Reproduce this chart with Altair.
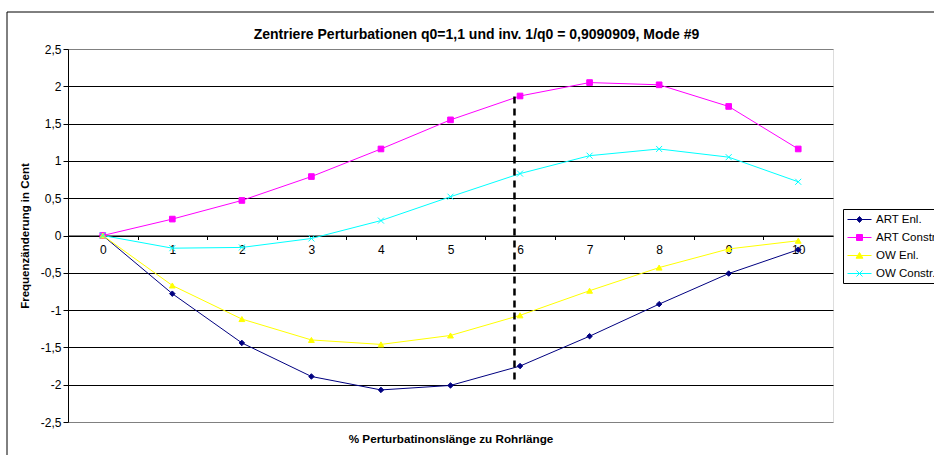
import altair as alt
import pandas as pd

# Perturbation position (% of tube length) on the category axis
positions = list(range(11))

# Frequency change in cent for each series
art_enl = [0, -0.78, -1.44, -1.89, -2.07, -2.01, -1.75, -1.35, -0.92, -0.51, -0.19]
art_constr = [0, 0.22, 0.47, 0.79, 1.16, 1.55, 1.87, 2.05, 2.02, 1.73, 1.16]
ow_enl = [0, -0.67, -1.12, -1.40, -1.46, -1.34, -1.07, -0.74, -0.43, -0.18, -0.07]
ow_constr = [0, -0.17, -0.16, -0.04, 0.20, 0.52, 0.83, 1.07, 1.16, 1.05, 0.72]

series_names = ["ART Enl.", "ART Constr.", "OW Enl.", "OW Constr."]
series_values = [art_enl, art_constr, ow_enl, ow_constr]
series_colors = ["#000080", "#FF00FF", "#FFFF00", "#00FFFF"]

# Marker glyphs in the plot and the line+marker glyphs in the legend
x_path = "M-1,-1L1,1M-1,1L1,-1"
marker_shapes = ["diamond", "square", "triangle-up", x_path]
marker_sizes = [30, 36, 42, 30]
legend_shapes = [
    "M-2,0H2M0,-0.5L0.45,0L0,0.5L-0.45,0Z",
    "M-2,0H2M-0.5,-0.5H0.5V0.5H-0.5Z",
    "M-2,0H2M0,-0.5L0.58,0.45H-0.58Z",
    "M-2,0H2M-0.5,-0.5L0.5,0.5M-0.5,0.5L0.5,-0.5",
]

# Dashed marker line
marker_pos = 5.92
marker_low = -1.93
marker_high = 1.93

y_ticks = [-2.5, -2.0, -1.5, -1.0, -0.5, 0.0, 0.5, 1.0, 1.5, 2.0, 2.5]
x_tick_positions = [p - 0.5 for p in positions]

title_text = "Zentriere Perturbationen q0=1,1 und inv. 1/q0 = 0,9090909, Mode #9"
x_title = "% Perturbatinonslänge zu Rohrlänge"
y_title = "Frequenzänderung in Cent"

rows = []
for name, vals in zip(series_names, series_values):
    for p, v in zip(positions, vals):
        rows.append({"pos": p, "value": v, "series": name})
df = pd.DataFrame(rows)

FONT = "Liberation Sans"
W, H = 765, 373

x_scale = alt.Scale(domain=[-0.5, 10.5], nice=False, zero=False)
y_scale = alt.Scale(domain=[-2.5, 2.5], nice=False, zero=False)
color_scale = alt.Scale(domain=series_names, range=series_colors)

x_axis = alt.Axis(
    values=x_tick_positions,
    tickCount=len(x_tick_positions) + 5,
    labelExpr="toString(datum.value + 0.5)",
    labelOffset=W / 11 / 2,
    labelFlush=False,
    labelOverlap=False,
    labelPadding=5,
    labelFont=FONT,
    labelFontSize=12,
    labelColor="black",
    offset=-(H / 2),
    tickSize=4,
    tickColor="black",
    domainColor="black",
    grid=False,
    title=x_title,
    titleFont=FONT,
    titleFontSize=11.7,
    titleFontWeight="bold",
    titleColor="black",
    titleY=202.5,
    titleBaseline="middle",
)

y_axis = alt.Axis(
    values=y_ticks,
    tickCount=len(y_ticks) + 5,
    labelExpr="replace(toString(datum.value), '.', ',')",
    labelOverlap=False,
    labelFlush=False,
    labelFont=FONT,
    labelFontSize=12,
    labelColor="black",
    labelPadding=2,
    tickSize=5,
    tickColor="black",
    domainColor="black",
    grid=True,
    gridColor={"condition": {"test": "abs(datum.value) > 2.4", "value": "#808080"}, "value": "black"},
    gridWidth=1,
    title=y_title,
    titleFont=FONT,
    titleFontSize=11.5,
    titleFontWeight="bold",
    titleColor="black",
    titlePadding=10,
)

base = alt.Chart(df)

lines = base.mark_line(strokeWidth=1).encode(
    x=alt.X("pos:Q", scale=x_scale, axis=x_axis),
    y=alt.Y("value:Q", scale=y_scale, axis=y_axis),
    color=alt.Color("series:N", scale=color_scale, legend=None),
)

points = base.mark_point(filled=True, opacity=1, strokeWidth=1).encode(
    x="pos:Q",
    y="value:Q",
    fill=alt.Fill("series:N", scale=color_scale, legend=None),
    stroke=alt.Stroke("series:N", scale=color_scale, legend=None),
    shape=alt.Shape("series:N", scale=alt.Scale(domain=series_names, range=marker_shapes), legend=None),
    size=alt.Size("series:N", scale=alt.Scale(domain=series_names, range=marker_sizes), legend=None),
)

marker_df = pd.DataFrame([{"pos": marker_pos, "lo": marker_low, "hi": marker_high}])
marker_line = alt.Chart(marker_df).mark_rule(
    strokeDash=[7, 5], strokeWidth=2.5, color="black"
).encode(x="pos:Q", y="lo:Q", y2="hi:Q")

legend_def = dict(
    title=None,
    orient="none",
    legendX=775,
    legendY=160,
    direction="vertical",
    fillColor="white",
    strokeColor="black",
    padding=4,
    cornerRadius=0,
    labelFont=FONT,
    labelFontSize=11.5,
    labelColor="black",
    symbolSize=144,
    symbolStrokeWidth=1,
    symbolOffset=6,
    labelOffset=10,
    rowPadding=6,
)

legend_layer = base.transform_filter("datum.pos < 0").mark_point(
    filled=True, opacity=1, strokeWidth=1
).encode(
    x="pos:Q",
    y="value:Q",
    fill=alt.Fill("series:N", scale=color_scale, legend=alt.Legend(**legend_def)),
    stroke=alt.Stroke("series:N", scale=color_scale, legend=alt.Legend(**legend_def)),
    shape=alt.Shape("series:N", scale=alt.Scale(domain=series_names, range=legend_shapes),
                    legend=alt.Legend(**legend_def)),
)

# Outer frame of the chart area
frame = alt.Chart(pd.DataFrame([{"f": 1}])).mark_rect(
    fill=None, stroke="black", strokeWidth=1
).encode(
    x=alt.value(-61), x2=alt.value(W + 200), y=alt.value(-37), y2=alt.value(H + 100)
)

chart = alt.layer(frame, lines, points, marker_line, legend_layer).resolve_scale(
    fill="independent", stroke="independent", shape="independent", size="independent"
).properties(
    width=W,
    height=H,
    title=alt.TitleParams(
        text=title_text,
        font=FONT,
        fontSize=14,
        fontWeight="bold",
        color="black",
        anchor="middle",
        frame="group",
        baseline="bottom",
        offset=0,
        dy=44,
        dx=26,
    ),
    autosize=alt.AutoSizeParams(type="none"),
    padding={"left": 68, "top": 49, "right": 934 - 68 - W, "bottom": 455 - 49 - H},
).configure_view(
    fill="#C0C0C0", stroke="#808080", strokeWidth=1
).configure(
    font=FONT, background="white"
)

chart.save("out.html", embed_options={"renderer": "svg", "actions": False})
